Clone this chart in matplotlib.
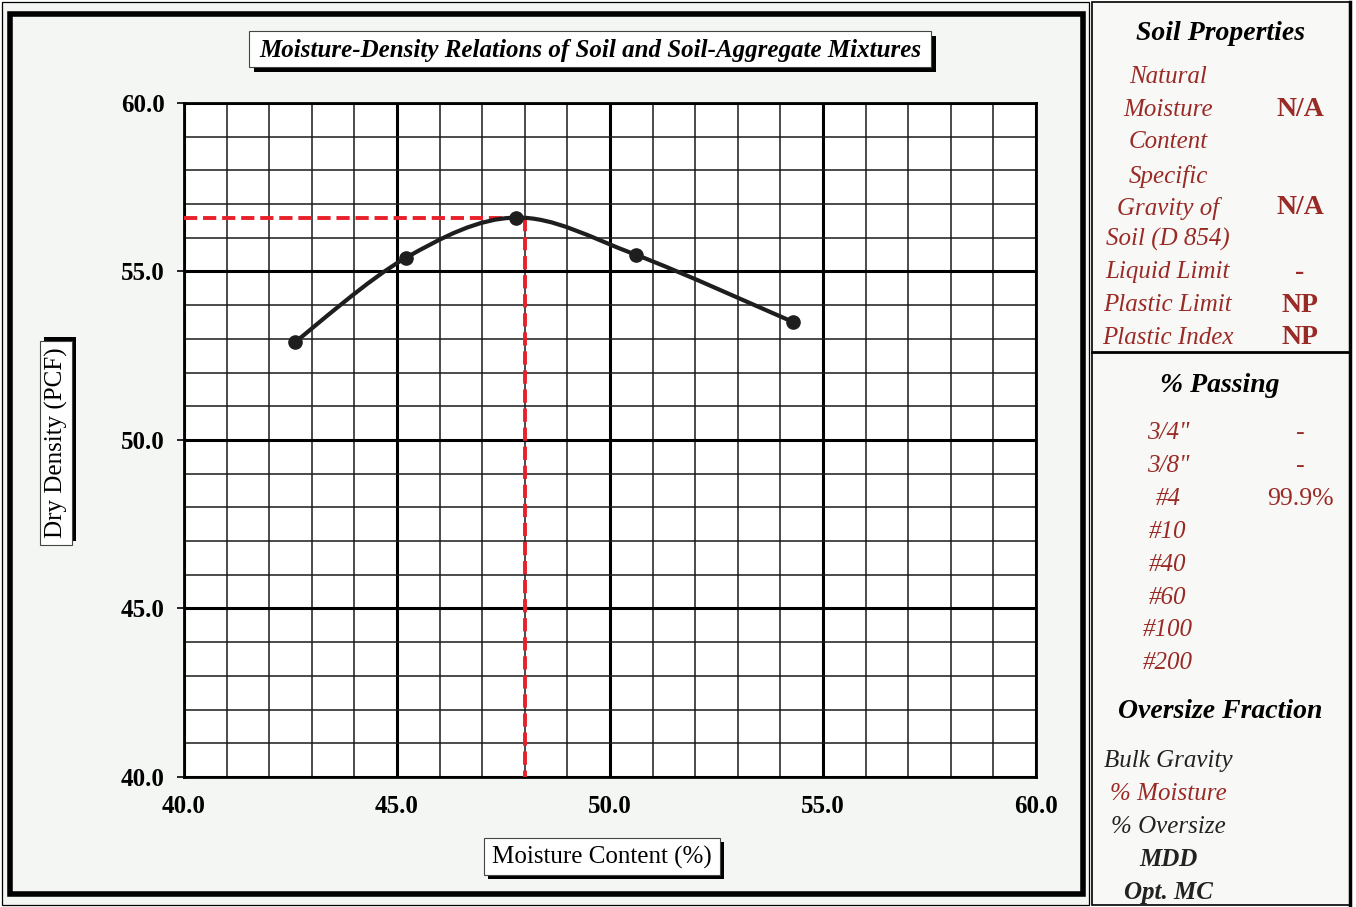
import numpy as np
import matplotlib
matplotlib.use("Agg")
import matplotlib.pyplot as plt
from matplotlib.patches import Rectangle, PathPatch
from matplotlib.path import Path

# ---------------- data ----------------
moisture = [42.6, 45.2, 47.8, 50.6, 54.3]
density = [52.9, 55.4, 56.6, 55.5, 53.5]
opt_mc = 48.0
mdd = 56.6
x_ticks = [40.0, 45.0, 50.0, 55.0, 60.0]
y_ticks = [40.0, 45.0, 50.0, 55.0, 60.0]

title = "Moisture-Density Relations of Soil and Soil-Aggregate Mixtures"
xlabel = "Moisture Content (%)"
ylabel = "Dry Density (PCF)"

soil_labels = ["Natural", "Moisture", "Content", "Specific", "Gravity of",
               "Soil (D 854)", "Liquid Limit", "Plastic Limit", "Plastic Index"]
soil_values = ["", "N/A", "", "", "N/A", "", "-", "NP", "NP"]
sieve_labels = ['3/4"', '3/8"', "#4", "#10", "#40", "#60", "#100", "#200"]
sieve_values = ["-", "-", "99.9%", "", "", "", "", ""]
oversize_labels = ["Bulk Gravity", "% Moisture", "% Oversize", "MDD", "Opt. MC"]

SERIF = "Liberation Serif"
RED = "#9a2a26"
W, H = 1356, 907

fig = plt.figure(figsize=(W / 100, H / 100), dpi=100)

# overlay for frames / text in pixel coordinates
ov = fig.add_axes([0, 0, 1, 1], zorder=0)
ov.set_xlim(0, W)
ov.set_ylim(H, 0)
ov.axis("off")

def rect(x0, y0, x1, y1, **kw):
    ov.add_patch(Rectangle((x0, y0), x1 - x0, y1 - y0, **kw))

# left panel
rect(2, 2, 1089, 905, fc="#f4f6f3", ec="black", lw=0.9)
rect(10, 14, 1083, 894, fc="none", ec="black", lw=4.0)
# right panel
rect(1092, 2, 1350, 905, fc="#f8f8f6", ec="black", lw=1.2)
ov.plot([1350, 1350], [2, 905], color="black", lw=2.5)
ov.plot([1092, 1350], [352, 352], color="black", lw=2.0)

# title box with shadow
rect(254, 36, 936, 72, fc="black", ec="black", lw=0)
rect(249, 31, 931, 67, fc="white", ec="#444444", lw=0.8)
ov.text(590, 50, title, ha="center", va="center", fontsize=18,
        family=SERIF, weight="bold", style="italic")

# y label box with shadow
rect(44, 337, 76, 541, fc="black", ec="black", lw=0)
rect(40, 341, 72, 545, fc="white", ec="#444444", lw=0.8)
ov.text(56, 443, ylabel, ha="center", va="center", rotation=90,
        fontsize=18, family=SERIF)

# x label box with shadow
rect(488, 842, 724, 879, fc="black", ec="black", lw=0)
rect(484, 838, 720, 875, fc="white", ec="#444444", lw=0.8)
ov.text(602, 857, xlabel, ha="center", va="center", fontsize=18, family=SERIF)

# ---------------- main chart ----------------
ax = fig.add_axes([184 / W, (H - 777) / H, 852 / W, 674 / H], zorder=1)
ax.set_facecolor("white")
ax.set_xlim(40, 60)
ax.set_ylim(40, 60)
ax.set_xticks(x_ticks)
ax.set_yticks(y_ticks)
ax.set_xticks(np.arange(40, 61, 1.0), minor=True)
ax.set_yticks(np.arange(40, 61, 1.0), minor=True)
ax.set_xticklabels([f"{v:.1f}" for v in x_ticks])
ax.set_yticklabels([f"{v:.1f}" for v in y_ticks])
ax.grid(which="minor", color="#1a1a1a", lw=1.1)
ax.grid(which="major", color="black", lw=2.2)
ax.set_axisbelow(True)
for s in ax.spines.values():
    s.set_linewidth(2.0)
ax.tick_params(axis="x", which="both", length=0, pad=13)
ax.tick_params(axis="y", which="major", length=5, width=1.2, pad=9, direction="out")
ax.tick_params(axis="y", which="minor", length=0)
for lab in ax.get_xticklabels() + ax.get_yticklabels():
    lab.set_family(SERIF)
    lab.set_weight("bold")
    lab.set_fontsize(18)

# smooth curve (Catmull-Rom bezier through data points)
pts = np.column_stack([moisture, density])
n = len(pts)
verts = [tuple(pts[0])]
codes = [Path.MOVETO]
for i in range(n - 1):
    p0 = pts[i - 1] if i > 0 else pts[i]
    p1 = pts[i]
    p2 = pts[i + 1]
    p3 = pts[i + 2] if i + 2 < n else pts[i + 1]
    c1 = p1 + (p2 - p0) / 6.0
    c2 = p2 - (p3 - p1) / 6.0
    verts += [tuple(c1), tuple(c2), tuple(p2)]
    codes += [Path.CURVE4, Path.CURVE4, Path.CURVE4]
ax.add_patch(PathPatch(Path(verts, codes), fc="none", ec="#1e1e1e", lw=3.0,
                       zorder=4, capstyle="round"))
ax.plot(moisture, density, "o", color="#1e1e1e", ms=9.5, zorder=5)

# optimum lines
ax.plot([40, opt_mc], [mdd, mdd], color="#e8202a", lw=2.8, dashes=(3.4, 1.5), zorder=3)
ax.plot([opt_mc, opt_mc], [mdd, 40], color="#e8202a", lw=2.8, dashes=(3.4, 1.5), zorder=3)

# ---------------- right panel text ----------------
cx_lab, cx_val = 1168, 1300
ov.text(1220, 33, "Soil Properties", ha="center", va="center", fontsize=20,
        family=SERIF, weight="bold", style="italic")
soil_y = [77, 110, 142, 176, 208, 239, 272, 305, 338]
for y, lab, val in zip(soil_y, soil_labels, soil_values):
    ov.text(cx_lab, y, lab, ha="center", va="center", fontsize=18,
            family=SERIF, style="italic", color=RED)
    if val:
        ov.text(cx_val, y, val, ha="center", va="center", fontsize=20,
                family=SERIF, weight="bold", color=RED)

ov.text(1220, 386, "% Passing", ha="center", va="center", fontsize=20,
        family=SERIF, weight="bold", style="italic")
sieve_y = [433, 466, 499, 532, 565, 598, 630, 663]
for y, lab, val in zip(sieve_y, sieve_labels, sieve_values):
    ov.text(cx_lab, y, lab, ha="center", va="center", fontsize=18,
            family=SERIF, style="italic", color=RED)
    if val:
        ov.text(cx_val, y, val, ha="center", va="center", fontsize=18.5,
                family=SERIF, color=RED)

ov.text(1220, 712, "Oversize Fraction", ha="center", va="center", fontsize=20,
        family=SERIF, weight="bold", style="italic")
over_y = [761, 794, 827, 860, 892]
over_col = ["#222222", RED, "#222222", "#222222", "#222222"]
over_w = ["normal", "normal", "normal", "bold", "bold"]
for y, lab, c, w in zip(over_y, oversize_labels, over_col, over_w):
    ov.text(cx_lab, y, lab, ha="center", va="center", fontsize=18,
            family=SERIF, style="italic", color=c, weight=w)

fig.savefig("out.png", dpi=100)
